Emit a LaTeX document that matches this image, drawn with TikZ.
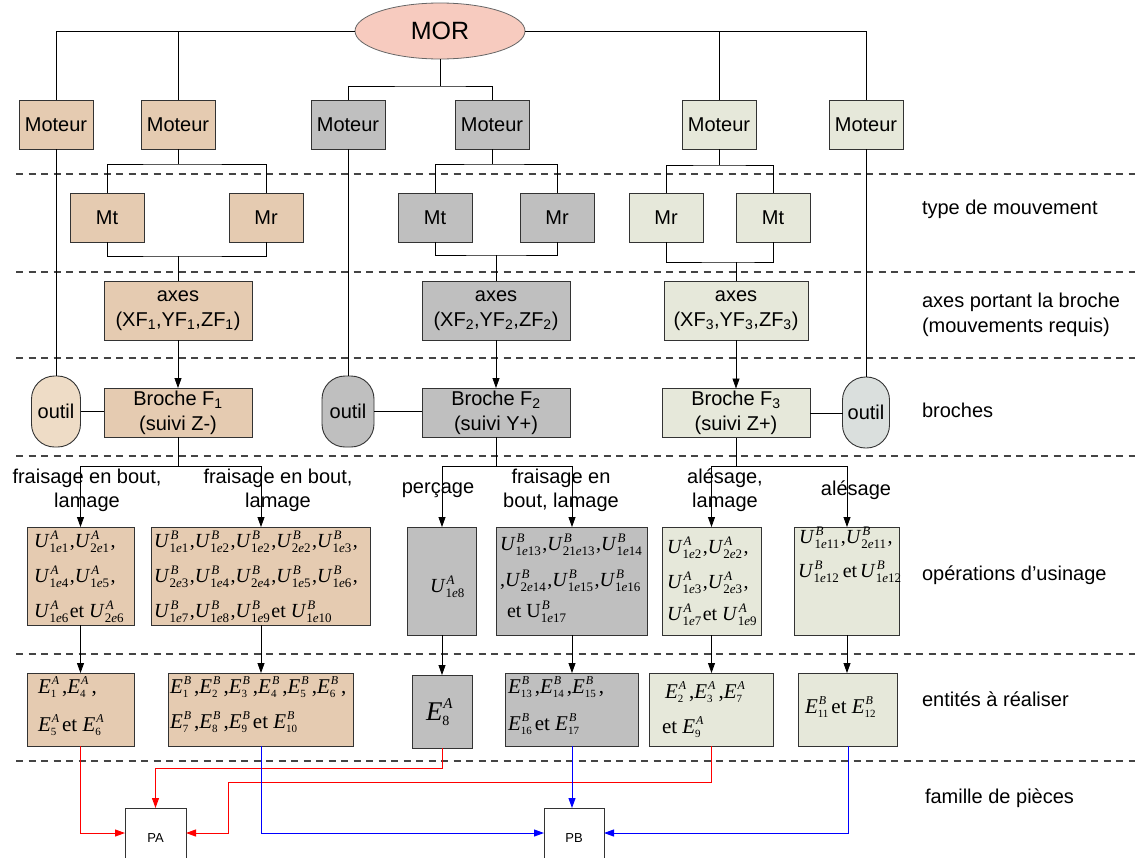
\documentclass[tikz,border=0pt]{standalone}
\usepackage{fontspec}
\setmainfont{Liberation Sans}
\newfontfamily\tms{Liberation Serif}
\usetikzlibrary{arrows.meta,shapes.geometric}
\definecolor{tanc}{HTML}{E5CBB1}
\definecolor{grayc}{HTML}{BFBFBF}
\definecolor{greenc}{HTML}{E6E8DA}
\definecolor{morc}{HTML}{F7CBBF}
\definecolor{outa}{HTML}{EEDCC6}
\definecolor{outc}{HTML}{DADFDD}
\definecolor{bord}{HTML}{333333}
\definecolor{dashc}{HTML}{444444}
\definecolor{bluec}{HTML}{0000FF}
\definecolor{redc}{HTML}{FF0000}
\newsavebox\spbox
\newsavebox\sbbox
\newcommand\Stk[7]{#1\sbox\spbox{\kern1pt\raisebox{#6}{#4#2}}%
  \sbox\sbbox{\raisebox{#7}{#5#3}}%
  \ifdim\wd\spbox>\wd\sbbox\rlap{\usebox\sbbox}\usebox\spbox\else\rlap{\usebox\spbox}\usebox\sbbox\fi}
\newcommand\fsa{\fontsize{13}{13}\selectfont}
\newcommand\ue{\textit{e}}
\newcommand\Uop[2]{\Stk{\textit{U}}{\itshape #1}{#2}{\fsa}{\fsa}{8pt}{-5pt}\kern1.5pt}
\newcommand\Uup[2]{\Stk{U}{\itshape #1}{#2}{\fsa}{\fsa}{8pt}{-5pt}\kern1.5pt}
\newcommand\Eop[2]{\Stk{\textit{E}}{\itshape #1}{#2}{\fontsize{12}{12}\selectfont}{\fontsize{11}{11}\selectfont}{9pt}{-4pt}\kern3pt}
\newcommand\Ebig[2]{\Stk{\textit{E}}{\itshape #1}{#2}{\fontsize{15}{15}\selectfont}{\fontsize{14}{14}\selectfont}{12pt}{-5pt}}
\begin{document}
\begin{tikzpicture}[x=1pt,y=-1pt,
  every node/.style={inner sep=0pt,outer sep=0pt},
  sans/.style={font=\fontsize{20}{25}\selectfont},
  bx/.style={draw=bord,line width=0.9pt,rectangle},
  mot/.style={bx,sans,minimum width=74pt,minimum height=49pt},
  axb/.style={bx,sans,align=center,minimum width=148pt,minimum height=59pt},
  brb/.style={bx,sans,align=center,minimum width=148pt,minimum height=49pt},
  outl/.style={draw=bord,line width=0.9pt,sans,rounded corners=23pt,minimum height=71pt},
  txt/.style={anchor=base west,font=\tms\fontsize{20}{24}\selectfont},
  etx/.style={anchor=base west,font=\tms\fontsize{21}{24}\selectfont},
  con/.style={line width=0.8pt,draw=black},
  arr/.style={con,-{Triangle[length=10pt,width=7pt]}},
  rarr/.style={line width=1pt,draw=redc,-{Triangle[length=10pt,width=7pt]}},
  barr/.style={line width=1pt,draw=bluec,-{Triangle[length=10pt,width=7pt]}},
  dl/.style={draw=dashc,line width=1.1pt,dash pattern=on 7pt off 5.5pt},
  rlab/.style={sans,anchor=west,align=left}]
\useasboundingbox (0,0) rectangle (1135,857);
\clip (0,0) rectangle (1135,857);
\fill[white] (0,0) rectangle (1135,857);
% dashed separators
\foreach \yy in {174,272,358,456,654,761} \draw[dl] (16,\yy) -- (1135,\yy);
% top
\node[ellipse,draw=gray!80!black,line width=0.8pt,fill=morc,minimum width=170pt,minimum height=56pt,font=\fontsize{25}{30}\selectfont] (mor) at (440,31) {MOR};
\node[mot,fill=tanc] (m1) at (56,124.5) {Moteur};
\node[mot,fill=tanc] (m2) at (178,124.5) {Moteur};
\node[mot,fill=grayc] (m3) at (348,124.5) {Moteur};
\node[mot,fill=grayc] (m4) at (492,124.5) {Moteur};
\node[mot,fill=greenc] (m5) at (719,124.5) {Moteur};
\node[mot,fill=greenc] (m6) at (866,124.5) {Moteur};
\node[mot,fill=tanc] (t1) at (107,217.5) {Mt};
\node[mot,fill=tanc] (r1) at (266,217.5) {Mr};
\node[mot,fill=grayc] (t2) at (435,217.5) {Mt};
\node[mot,fill=grayc] (r2) at (557,217.5) {Mr};
\node[mot,fill=greenc] (r3) at (666,217.5) {Mr};
\node[mot,fill=greenc] (t3) at (773,217.5) {Mt};
\node[axb,fill=tanc] (a1) at (178,310.5) {axes\\(XF\textsubscript{1},YF\textsubscript{1},ZF\textsubscript{1})};
\node[axb,fill=grayc] (a2) at (496,310.5) {axes\\(XF\textsubscript{2},YF\textsubscript{2},ZF\textsubscript{2})};
\node[axb,fill=greenc,minimum width=144pt] (a3) at (736,310.5) {axes\\(XF\textsubscript{3},YF\textsubscript{3},ZF\textsubscript{3})};
\node[brb,fill=tanc] (b1) at (178,412.5) {Broche F\textsubscript{1}\\(suivi Z-)};
\node[brb,fill=grayc] (b2) at (496,412.5) {Broche F\textsubscript{2}\\(suivi Y+)};
\node[brb,fill=greenc] (b3) at (736,413) {Broche F\textsubscript{3}\\(suivi Z+)};
\node[outl,fill=outa,minimum width=49pt] (o1) at (56,411.5) {outil};
\node[outl,fill=grayc,minimum width=52pt] (o2) at (348,411.5) {outil};
\node[outl,fill=outc,minimum width=47pt] (o3) at (866,412.5) {outil};
% operation boxes
\node[bx,fill=tanc,minimum width=107pt,minimum height=98pt] (p1) at (80.5,576) {};
\node[bx,fill=tanc,minimum width=219pt,minimum height=98pt] (p2) at (261,576) {};
\node[bx,fill=grayc,minimum width=69pt,minimum height=108pt] (p3) at (442,581) {};
\node[bx,fill=grayc,minimum width=151pt,minimum height=108pt] (p4) at (572,581) {};
\node[bx,fill=greenc,minimum width=99pt,minimum height=108pt] (p5) at (711.5,581) {};
\node[bx,fill=greenc,minimum width=105pt,minimum height=108pt] (p6) at (847,581) {};
% entity boxes
\node[bx,fill=tanc,minimum width=107pt,minimum height=73pt] (e1) at (80.5,709.5) {};
\node[bx,fill=tanc,minimum width=185pt,minimum height=73pt] (e2) at (261,709.5) {};
\node[bx,fill=grayc,minimum width=60pt,minimum height=73pt] (e3) at (442,711.5) {};
\node[bx,fill=grayc,minimum width=133pt,minimum height=73pt] (e4) at (572,709.5) {};
\node[bx,fill=greenc,minimum width=124pt,minimum height=73pt] (e5) at (711.5,709.5) {};
\node[bx,fill=greenc,minimum width=99pt,minimum height=73pt] (e6) at (848,709.5) {};
% parts
\node[draw=bord,line width=0.9pt,fill=white,minimum width=61pt,minimum height=60pt,font=\fontsize{13}{13}\selectfont] (pa) at (155.5,838) {PA};
\node[draw=bord,line width=0.9pt,fill=white,minimum width=60pt,minimum height=60pt,font=\fontsize{13}{13}\selectfont] (pb) at (574,838) {PB};
% operation texts
\node[txt] (p1a) at (34,547) {\Uop{A}{1\ue1},\Uop{A}{2\ue1},};
\node[txt] (p1b) at (34,582) {\Uop{A}{1\ue4},\Uop{A}{1\ue5},};
\node[txt] (p1c) at (34,617) {\Uop{A}{1\ue6} et \Uop{A}{2\ue6}};
\node[txt] (p2a) at (154,547) {\Uop{B}{1\ue1},\Uop{B}{1\ue2},\Uop{B}{1\ue2},\Uop{B}{2\ue2},\Uop{B}{1\ue3},};
\node[txt] (p2b) at (154,582) {\Uop{B}{2\ue3},\Uop{B}{1\ue4},\Uop{B}{2\ue4},\Uop{B}{1\ue5},\Uop{B}{1\ue6},};
\node[txt] (p2c) at (154,617) {\Uop{B}{1\ue7},\Uop{B}{1\ue8},\Uop{B}{1\ue9} et \Uop{B}{1\ue10}};
\node[txt] (p3a) at (430,592) {\Uop{A}{1\ue8}};
\node[txt] (p4a) at (500,550) {\Uop{B}{1\ue13},\Uop{B}{21\ue13},\Uop{B}{1\ue14}};
\node[txt] (p4b) at (500,586) {,\Uop{B}{2\ue14},\Uop{B}{1\ue15},\Uop{B}{1\ue16}};
\node[txt] (p4c) at (507,617) {et \Uup{B}{1\ue17}};
\node[txt] (p5a) at (667,553) {\Uop{A}{1\ue2},\Uop{A}{2\ue2},};
\node[txt] (p5b) at (667,588) {\Uop{A}{1\ue3},\Uop{A}{2\ue3},};
\node[txt] (p5c) at (667,620) {\Uop{A}{1\ue7} et \Uop{A}{1\ue9}};
\node[txt] (p6a) at (799,543) {\Uop{B}{1\ue11},\Uop{B}{2\ue11},};
\node[txt] (p6b) at (798,577) {\Uop{B}{1\ue12}\hspace{2.5pt}et\hspace{3pt}\Uop{B}{1\ue12}};
% entity texts
\node[etx] (e1a) at (38,693) {\Eop{A}{1},\Eop{A}{4},};
\node[etx] (e1b) at (38,731) {\Eop{A}{5} et \Eop{A}{6}};
\node[etx] (e2a) at (170,693) {\Eop{B}{1},\Eop{B}{2},\Eop{B}{3},\Eop{B}{4},\Eop{B}{5},\Eop{B}{6},};
\node[etx] (e2b) at (170,728) {\Eop{B}{7},\Eop{B}{8},\Eop{B}{9} et \Eop{B}{10}};
\node[anchor=base west,font=\tms\fontsize{27}{27}\selectfont] (e3a) at (426,720) {\Ebig{A}{8}};
\node[etx] (e4a) at (508,693) {\Eop{B}{13},\Eop{B}{14},\Eop{B}{15},};
\node[etx] (e4b) at (508,730) {\Eop{B}{16} et \Eop{B}{17}};
\node[etx] (e5a) at (665,698) {\Eop{A}{2},\Eop{A}{3},\Eop{A}{7}};
\node[etx] (e5b) at (662,733) {et \Eop{A}{9}};
\node[etx] (e6a) at (805,713) {\Eop{B}{11} et \Eop{B}{12}};
% right labels
\node[rlab] (l1) at (922,209) {type de mouvement};
\node[rlab] (l2) at (922,315) {axes portant la broche\\(mouvements requis)};
\node[rlab] (l3) at (922,410) {broches};
\node[rlab] (l4) at (922,575) {opérations d’usinage};
\node[rlab] (l5) at (922,699) {entités à réaliser};
\node[rlab] (l6) at (925,798) {famille de pièces};
% edge labels
\node[sans,align=center,font=\fontsize{20}{24}\selectfont] (f1) at (87,490) {fraisage en bout,\\lamage};
\node[sans,align=center,font=\fontsize{20}{24}\selectfont] (f2) at (278,490) {fraisage en bout,\\lamage};
\node[sans] (f3) at (438,490) {perçage};
\node[sans,align=center,font=\fontsize{20}{24}\selectfont] (f4) at (561,490) {fraisage en\\bout, lamage};
\node[sans,align=center,font=\fontsize{20}{24}\selectfont] (f5) at (725,490) {alésage,\\lamage};
\node[sans] (f6) at (856,490) {alésage};
% connectors top
\coordinate (j0) at (440,86);
\draw[con] (mor.west) -| (m1.north);
\draw[con] (m2.north) -- (m2.north |- mor.west);
\draw[con] (mor.east) -| (m6.north);
\draw[con] (m5.north) -- (m5.north |- mor.east);
\draw[con] (mor.south) -- (j0);
\draw[con] (m3.north) |- (j0) -| (m4.north);
\coordinate (j1) at (178,164);
\coordinate (k1) at (178,256);
\draw[con] (m2.south) -- (j1);
\draw[con] (t1.north) |- (j1) -| (r1.north);
\draw[con] (t1.south) |- (k1) -| (r1.south);
\draw[con] (k1) -- (a1.north);
\coordinate (j2) at (492,164);
\coordinate (k2) at (496,255);
\draw[con] (m4.south) -- (j2);
\draw[con] (t2.north) |- (j2) -| (r2.north);
\draw[con] (t2.south) |- (k2) -| (r2.south);
\draw[con] (k2) -- (a2.north);
\coordinate (j3) at (719,165);
\coordinate (k3) at (736,262);
\draw[con] (m5.south) -- (j3);
\draw[con] (r3.north) |- (j3) -| (t3.north);
\draw[con] (r3.south) |- (k3) -| (t3.south);
\draw[con] (k3) -- (a3.north);
% tool lines
\draw[con] (m1.south) -- (m1.south |- o1.north);
\draw[con] (m3.south) -- (m3.south |- o2.north);
\draw[con] (m6.south) -- (m6.south |- o3.north);
\draw[con] (o1.east) -- (o1.east -| b1.west);
\draw[con] (o2.east) -- (o2.east -| b2.west);
\draw[con] (b3.east) -- (b3.east -| o3.west);
\draw[arr] (a1.south) -- (b1.north);
\draw[arr] (a2.south) -- (b2.north);
\draw[arr] (a3.south) -- (b3.north);
% broche splits
\coordinate (s1) at (178,466);
\coordinate (s2) at (496,466);
\coordinate (s3) at (736,466);
\draw[con] (b1.south) -- (s1);
\draw[con] (b2.south) -- (s2);
\draw[con] (b3.south) -- (s3);
\draw[arr] (s1) -| (p1.north);
\draw[arr] (s1) -| (p2.north);
\draw[arr] (s2) -| (p3.north);
\draw[arr] (s2) -| (p4.north);
\draw[arr] (s3) -| (p5.north);
\draw[arr] (s3) -| (p6.north);
% op to entity
\draw[arr] (p1.south) -- (p1.south |- e1.north);
\draw[arr] (p2.south) -- (p2.south |- e2.north);
\draw[arr] (p3.south) -- (p3.south |- e3.north);
\draw[arr] (p4.south) -- (p4.south |- e4.north);
\draw[arr] (p5.south) -- (p5.south |- e5.north);
\draw[arr] (p6.south) -- (p6.south |- e6.north);
% families
\coordinate (c1) at (0,768);
\coordinate (c2) at (0,782);
\coordinate (c3) at (228,833);
\draw[rarr] (e1.south) |- ([yshift=5pt]pa.west);
\draw[rarr] (e3.south) -- (e3.south |- c1) -| (pa.north);
\draw[rarr] (e5.south) -- (e5.south |- c2) -| (c3) -- ([yshift=5pt]pa.east);
\draw[barr] (e2.south) |- ([yshift=5pt]pb.west);
\draw[barr] (e4.south) -- (e4.south |- pb.north);
\draw[barr] (e6.south) |- ([yshift=5pt]pb.east);
\end{tikzpicture}
\end{document}
